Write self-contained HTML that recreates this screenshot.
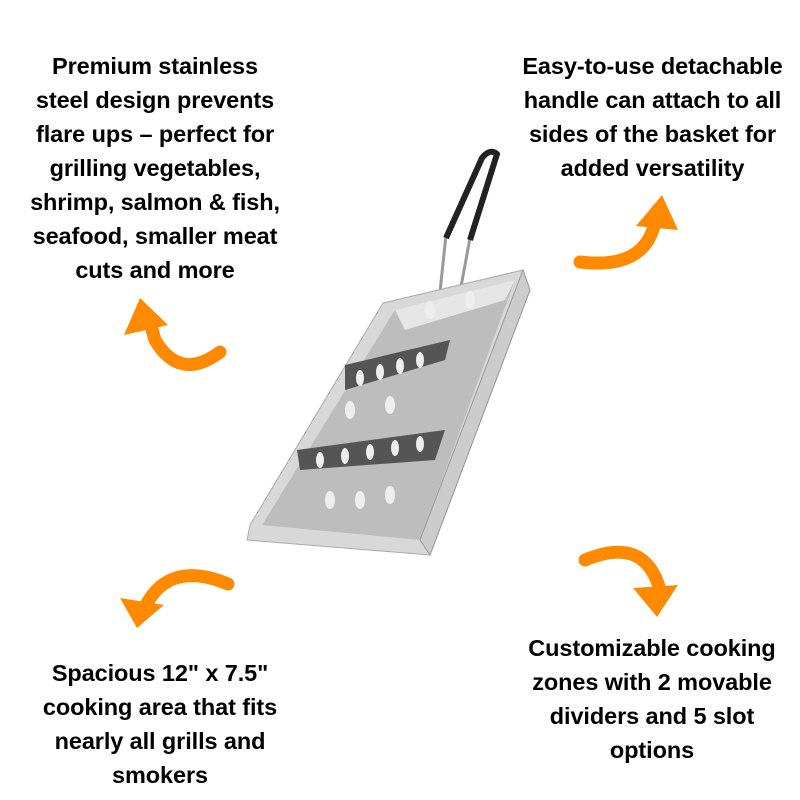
<!DOCTYPE html>
<html><head><meta charset="utf-8"><style>
body{margin:0;width:800px;height:800px;background:#fff;position:relative;overflow:hidden;font-family:"Liberation Sans",sans-serif;font-weight:bold;color:#000}
.t{position:absolute;text-align:center;font-size:23.5px;line-height:34px;letter-spacing:-0.1px;white-space:nowrap}
svg{position:absolute;left:0;top:0}
</style></head><body>
<svg width="800" height="800" viewBox="0 0 800 800">
<g fill="none" stroke="#ff8a00" stroke-linecap="round" stroke-width="13">
<path d="M220 352 Q180 382 155 340 L150 322"/>
<path d="M580 262 Q645 270 655 222"/>
<path d="M228 584 Q170 560 146 605"/>
<path d="M585 560 Q645 535 660 590"/>
</g>
<g fill="#ff8a00">
<polygon points="140,298 124,335 168,325"/>
<polygon points="662,195 636,226 678,230"/>
<polygon points="137,628 120,598 164,605"/>
<polygon points="657,617 633,588 678,585"/>
</g>
<path d="M440 292 L446 235 M460 292 L470 238" stroke="#999" stroke-width="3" fill="none"/>
<path d="M446 238 L482 158 Q490 148 497 154 L470 240" stroke="#222" stroke-width="6" fill="none" stroke-linejoin="round"/>
<polygon points="383,303 523,270 530,290 430,555 247,540 250,525" fill="#d8d8d8" stroke="#aaa"/>
<polygon points="395,310 515,280 420,540 262,525" fill="#bdbdbd"/>
<polygon points="395,310 515,280 505,300 405,330" fill="#e6e6e6"/>
<polygon points="345,365 450,340 445,360 345,390" fill="#555"/>
<polygon points="297,450 445,430 435,460 300,470" fill="#555"/>
<g fill="#eee">
<ellipse cx="360" cy="378" rx="4" ry="8"/><ellipse cx="380" cy="372" rx="4" ry="8"/><ellipse cx="400" cy="366" rx="4" ry="8"/><ellipse cx="420" cy="360" rx="4" ry="8"/>
<ellipse cx="320" cy="460" rx="4" ry="8"/><ellipse cx="345" cy="456" rx="4" ry="8"/><ellipse cx="370" cy="452" rx="4" ry="8"/><ellipse cx="395" cy="448" rx="4" ry="8"/><ellipse cx="420" cy="444" rx="4" ry="8"/>
<ellipse cx="330" cy="500" rx="5" ry="9"/><ellipse cx="360" cy="500" rx="5" ry="9"/><ellipse cx="390" cy="495" rx="5" ry="9"/>
<ellipse cx="350" cy="410" rx="5" ry="9"/><ellipse cx="390" cy="405" rx="5" ry="9"/><ellipse cx="430" cy="310" rx="5" ry="9"/><ellipse cx="470" cy="300" rx="5" ry="9"/>
</g>
<polygon points="523,270 530,290 430,555 420,540" fill="#ccc" stroke="#999"/>
</svg>
<div class="t" style="left:5px;top:49px;width:300px">Premium stainless<br>steel design prevents<br>flare ups – perfect for<br>grilling vegetables,<br>shrimp, salmon &amp; fish,<br>seafood, smaller meat<br>cuts and more</div>
<div class="t" style="left:500px;top:49px;width:305px">Easy-to-use detachable<br>handle can attach to all<br>sides of the basket for<br>added versatility</div>
<div class="t" style="left:10px;top:656px;width:300px">Spacious 12" x 7.5"<br>cooking area that fits<br>nearly all grills and<br>smokers</div>
<div class="t" style="left:502px;top:631px;width:300px">Customizable cooking<br>zones with 2 movable<br>dividers and 5 slot<br>options</div>
</body></html>
